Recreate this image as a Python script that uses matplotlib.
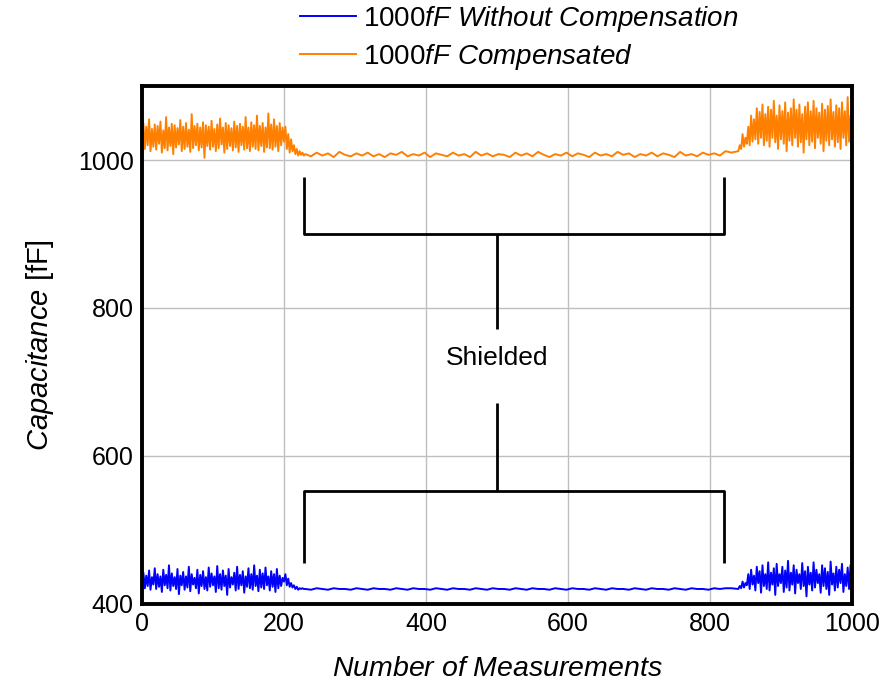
import numpy as np
import matplotlib
matplotlib.use("Agg")
import matplotlib.pyplot as plt

plt.rcParams['font.family'] = ['Liberation Sans', 'DejaVu Sans']
plt.rcParams['mathtext.fontset'] = 'custom'
plt.rcParams['mathtext.rm'] = 'Liberation Sans'
plt.rcParams['mathtext.it'] = 'Liberation Sans:italic'

# ---- data ----
comp_start = [1030, 1050, 1015, 1045, 1020, 1055, 1012, 1042, 1018, 1048,
              1014, 1046, 1022, 1052, 1010, 1040, 1016, 1058, 1013, 1044,
              1019, 1049, 1008, 1047, 1017, 1043, 1021, 1054, 1012, 1045,
              1015, 1050, 1018, 1041, 1011, 1062, 1016, 1046, 1020, 1049,
              1013, 1044, 1017, 1051, 1003, 1047, 1019, 1045, 1014, 1053,
              1018, 1042, 1012, 1048, 1016, 1056, 1021, 1044, 1010, 1050,
              1015, 1047, 1019, 1043, 1013, 1052, 1017, 1046, 1011, 1049,
              1020, 1045, 1014, 1058, 1016, 1044, 1012, 1051, 1018, 1047,
              1015, 1060, 1013, 1046, 1019, 1050, 1011, 1044, 1017, 1063,
              1016, 1048, 1014, 1055, 1018, 1046, 1012, 1050, 1020, 1044]
comp_trans = [1025, 1045, 1015, 1035, 1010, 1028, 1012, 1020, 1008, 1015, 1006, 1012, 1007, 1010, 1006]
comp_shield = [1008, 1005, 1010, 1006, 1009, 1004, 1011, 1007, 1005, 1009, 1006, 1010, 1005, 1008, 1004,
               1009, 1007, 1011, 1005, 1008, 1006, 1010, 1004, 1009, 1007, 1005, 1010, 1006, 1008, 1004,
               1011, 1006, 1009, 1005, 1008, 1007, 1004, 1010, 1006, 1009, 1005, 1011, 1007, 1004, 1008,
               1006, 1010, 1005, 1009, 1007, 1004, 1010, 1006, 1008, 1005, 1011, 1007, 1009, 1004, 1008,
               1006, 1010, 1005, 1009, 1007, 1004, 1011, 1006, 1008, 1005, 1010, 1007, 1009, 1006, 1012,
               1010]
comp_end = [1012, 1020, 1015, 1035, 1018, 1030, 1022, 1045, 1020, 1060,
            1025, 1055, 1028, 1070, 1022, 1065, 1030, 1075, 1020, 1062,
            1026, 1072, 1018, 1068, 1030, 1080, 1024, 1060, 1015, 1074,
            1028, 1066, 1022, 1078, 1012, 1064, 1026, 1070, 1020, 1082,
            1030, 1068, 1018, 1075, 1024, 1062, 1010, 1072, 1028, 1078,
            1020, 1066, 1025, 1080, 1016, 1070, 1030, 1064, 1022, 1076,
            1012, 1068, 1026, 1073, 1020, 1082, 1028, 1065, 1018, 1074,
            1024, 1070, 1015, 1078, 1030, 1066, 1020, 1085, 1025, 1060,
            1015]

unc_start = [430, 442, 421, 438, 424, 445, 419, 436, 426, 448,
             420, 440, 423, 437, 416, 446, 425, 439, 421, 452,
             418, 441, 424, 436, 420, 447, 413, 438, 425, 443,
             419, 437, 422, 450, 417, 440, 426, 435, 421, 446,
             414, 439, 424, 444, 420, 436, 418, 449, 423, 441,
             425, 437, 416, 451, 421, 440, 419, 445, 424, 438,
             412, 447, 422, 436, 426, 442, 418, 450, 420, 439,
             425, 444, 415, 437, 423, 448, 421, 440, 419, 452,
             424, 438, 417, 446, 422, 441, 420, 449, 425, 437,
             418, 444, 423, 440, 416, 447, 421, 438, 424, 435]
unc_trans = [430, 440, 425, 434, 423, 428, 422, 425, 420, 423, 419, 421, 420, 421, 420]
unc_shield = [420, 419, 421, 420, 419, 421, 420, 420, 419, 421, 420, 419, 421, 420, 420, 419, 421, 420,
              419, 421, 420, 420, 419, 421, 420, 419, 421, 420, 420, 419, 421, 420, 419, 421, 420, 420,
              419, 421, 420, 419, 421, 420, 420, 419, 421, 420, 419, 421, 420, 420, 419, 421, 420, 419,
              421, 420, 420, 419, 421, 420, 419, 421, 420, 420, 419, 421, 420, 419, 421, 420, 420, 419,
              421, 420, 421, 421]
unc_end = [420, 424, 421, 430, 422, 428, 425, 440, 420, 446,
           426, 438, 418, 450, 428, 444, 415, 452, 424, 440,
           420, 456, 418, 442, 426, 448, 412, 454, 424, 440,
           428, 450, 416, 445, 422, 458, 418, 442, 426, 452,
           414, 446, 428, 440, 420, 455, 424, 444, 410, 450,
           426, 442, 418, 456, 422, 446, 428, 440, 415, 452,
           424, 448, 420, 443, 412, 457, 426, 441, 418, 450,
           422, 446, 428, 454, 416, 440, 424, 449, 420, 452,
           408]

seg_starts = [0, 200, 230, 840]
seg_steps = [2, 2, 8, 2]

x_ticks = [0, 200, 400, 600, 800, 1000]
y_ticks = [400, 600, 800, 1000]

# bracket geometry (data units)
br_left, br_right, br_mid = 228, 820, 500
upper_top, upper_bar, upper_stem = 977, 900, 772
lower_stem, lower_bar, lower_bot = 671, 553, 455
label_y = 732


def build(segs):
    xs, ys = [], []
    for s, st, v in zip(seg_starts, seg_steps, segs):
        xs.append(s + st * np.arange(len(v)))
        ys.append(np.array(v, dtype=float))
    return np.concatenate(xs), np.concatenate(ys)


xc, yc = build([comp_start, comp_trans, comp_shield, comp_end])
xu, yu = build([unc_start, unc_trans, unc_shield, unc_end])

fig = plt.figure(figsize=(8.93, 6.83), dpi=100)
ax = fig.add_axes([0.159, 0.116, 0.795, 0.758])

lu, = ax.plot(xu, yu, color='#0000ff', lw=1.4,
              label=r'1000$\mathit{fF}$ $\mathit{Without\ Compensation}$')
lc, = ax.plot(xc, yc, color='#ff8000', lw=1.4,
              label=r'1000$\mathit{fF}$ $\mathit{Compensated}$')

bk = dict(color='black', lw=2.0, solid_capstyle='butt')
ax.plot([br_left, br_left, br_right, br_right], [upper_top, upper_bar, upper_bar, upper_top], **bk)
ax.plot([br_mid, br_mid], [upper_bar, upper_stem], **bk)
ax.plot([br_left, br_left, br_right, br_right], [lower_bot, lower_bar, lower_bar, lower_bot], **bk)
ax.plot([br_mid, br_mid], [lower_bar, lower_stem], **bk)
ax.text(br_mid, label_y, 'Shielded', ha='center', va='center', fontsize=19)

ax.set_xlim(0, 1000)
ax.set_ylim(400, 1100)
ax.set_xticks(x_ticks)
ax.set_yticks(y_ticks)
ax.grid(True, color='#bfbfbf', lw=1.0)
ax.set_axisbelow(True)
ax.tick_params(length=0, labelsize=18, pad=6)
for sp in ax.spines.values():
    sp.set_linewidth(2.8)

ax.set_xlabel(r'$\mathit{Number\ of\ Measurements}$', fontsize=20.5, labelpad=14)
ax.set_ylabel(r'$\mathit{Capacitance}$ [fF]', fontsize=21, labelpad=16)

fig.legend(handles=[lu, lc], loc='upper left', bbox_to_anchor=(0.308, 1.031), frameon=False,
           fontsize=20, handlelength=2.0, handletextpad=0.25, labelspacing=0.3)

fig.savefig('out.png', dpi=100)
